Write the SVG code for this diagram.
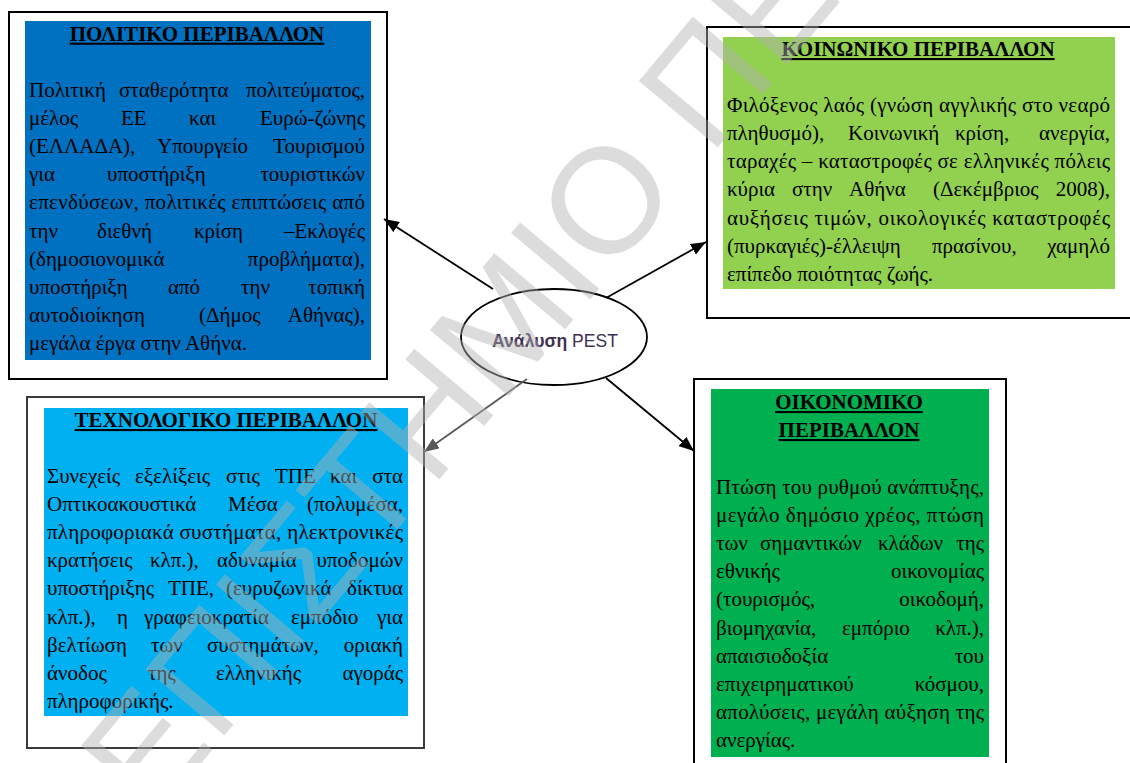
<svg xmlns="http://www.w3.org/2000/svg" width="1130" height="763" viewBox="0 0 1130 763">
<style>
.frame{fill:#fff;stroke:#000;stroke-width:2}
.b{font-family:"Liberation Serif","Times New Roman",serif;font-size:21px;fill:#000}
.t{font-family:"Liberation Serif","Times New Roman",serif;font-size:21px;font-weight:bold;fill:#000;text-decoration:underline;text-anchor:middle}
.e{text-anchor:end}
.con{stroke:#000;stroke-width:1.8;fill:none}
.wm{font-family:"Liberation Sans",Arial,sans-serif;font-size:150px;fill:#b2b2b2;fill-opacity:0.45}
</style>
<defs>
<marker id="ah" markerUnits="userSpaceOnUse" markerWidth="16" markerHeight="12" refX="15" refY="6" orient="auto"><path d="M0,0 L15,6 L0,12 z" fill="#000"/></marker>
<marker id="ahg" markerUnits="userSpaceOnUse" markerWidth="16" markerHeight="12" refX="15" refY="6" orient="auto"><path d="M0,0 L15,6 L0,12 z" fill="#595959"/></marker>
</defs>
<rect width="1130" height="763" fill="#fff"/>

<g id="political">
<rect class="frame" x="9" y="12" width="378" height="367"/>
<rect x="25" y="21" width="346" height="339" fill="#0070c0"/>
<text class="t" x="197" y="40.7">ΠΟΛΙΤΙΚΟ ΠΕΡΙΒΑΛΛΟΝ</text>
<text class="b" y="96.5"><tspan x="29">Πολιτική</tspan><tspan x="119">σταθερότητα</tspan><tspan class="e" x="365">πολιτεύματος,</tspan></text>
<text class="b" y="124.7"><tspan x="29">μέλος</tspan><tspan x="121">ΕΕ</tspan><tspan x="189">και</tspan><tspan class="e" x="365">Ευρώ-ζώνης</tspan></text>
<text class="b" y="152.9"><tspan x="29">(ΕΛΛΑΔΑ),</tspan><tspan x="157">Υπουργείο</tspan><tspan class="e" x="365">Τουρισμού</tspan></text>
<text class="b" y="181.1"><tspan x="29">για</tspan><tspan x="107">υποστήριξη</tspan><tspan class="e" x="365">τουριστικών</tspan></text>
<text class="b" y="209.3" x="29" textLength="336" lengthAdjust="spacing">επενδύσεων, πολιτικές επιπτώσεις από</text>
<text class="b" y="237.5"><tspan x="29">την</tspan><tspan x="97">διεθνή</tspan><tspan x="194">κρίση</tspan><tspan class="e" x="365">–Εκλογές</tspan></text>
<text class="b" y="265.7"><tspan x="29">(δημοσιονομικά</tspan><tspan class="e" x="365">προβλήματα),</tspan></text>
<text class="b" y="293.9"><tspan x="29">υποστήριξη</tspan><tspan x="168">από</tspan><tspan x="241">την</tspan><tspan class="e" x="365">τοπική</tspan></text>
<text class="b" y="322.1"><tspan x="29">αυτοδιοίκηση</tspan><tspan x="199">(Δήμος</tspan><tspan class="e" x="365">Αθήνας),</tspan></text>
<text class="b" y="350.3" x="29">μεγάλα έργα στην Αθήνα.</text>
</g>

<g id="social">
<rect class="frame" x="707" y="27" width="430" height="291"/>
<rect x="723" y="37" width="392" height="252" fill="#92d050"/>
<text class="t" x="918" y="56">ΚΟΙΝΩΝΙΚΟ ΠΕΡΙΒΑΛΛΟΝ</text>
<text class="b" y="111.7" x="727" textLength="383" lengthAdjust="spacing">Φιλόξενος λαός (γνώση αγγλικής στο νεαρό</text>
<text class="b" y="139.9"><tspan x="727">πληθυσμό),</tspan><tspan x="848">Κοινωνική</tspan><tspan x="955">κρίση,</tspan><tspan class="e" x="1110">ανεργία,</tspan></text>
<text class="b" y="168.1" x="727" textLength="383" lengthAdjust="spacing">ταραχές – καταστροφές σε ελληνικές πόλεις</text>
<text class="b" y="196.3"><tspan x="727">κύρια</tspan><tspan x="792">στην</tspan><tspan x="849">Αθήνα</tspan><tspan x="933">(Δεκέμβριος</tspan><tspan class="e" x="1110">2008),</tspan></text>
<text class="b" y="224.5" x="727" textLength="383" lengthAdjust="spacing">αυξήσεις τιμών, οικολογικές καταστροφές</text>
<text class="b" y="252.7"><tspan x="727">(πυρκαγιές)-έλλειψη</tspan><tspan x="932">πρασίνου,</tspan><tspan class="e" x="1110">χαμηλό</tspan></text>
<text class="b" y="280.9" x="727">επίπεδο ποιότητας ζωής.</text>
</g>

<g id="technological">
<rect x="27" y="397" width="397" height="351" fill="#fff" stroke="#3a3a3a" stroke-width="2"/>
<rect x="44" y="408" width="364" height="308" fill="#00b0f0"/>
<text class="t" x="226" y="427">ΤΕΧΝΟΛΟΓΙΚΟ ΠΕΡΙΒΑΛΛΟΝ</text>
<text class="b" y="482.5"><tspan x="47">Συνεχείς</tspan><tspan x="135">εξελίξεις</tspan><tspan x="226">στις</tspan><tspan x="275">ΤΠΕ</tspan><tspan x="330">και</tspan><tspan class="e" x="403">στα</tspan></text>
<text class="b" y="510.7"><tspan x="47">Οπτικοακουστικά</tspan><tspan x="228">Μέσα</tspan><tspan class="e" x="403">(πολυμέσα,</tspan></text>
<text class="b" y="538.9" x="47" textLength="356" lengthAdjust="spacing">πληροφοριακά συστήματα, ηλεκτρονικές</text>
<text class="b" y="567.1"><tspan x="47">κρατήσεις</tspan><tspan x="150">κλπ.),</tspan><tspan x="217">αδυναμία</tspan><tspan class="e" x="403">υποδομών</tspan></text>
<text class="b" y="595.3"><tspan x="47">υποστήριξης</tspan><tspan x="168">ΤΠΕ,</tspan><tspan x="226">(ευρυζωνικά</tspan><tspan class="e" x="403">δίκτυα</tspan></text>
<text class="b" y="623.5"><tspan x="47">κλπ.),</tspan><tspan x="117">η</tspan><tspan x="144">γραφειοκρατία</tspan><tspan x="291">εμπόδιο</tspan><tspan class="e" x="403">για</tspan></text>
<text class="b" y="651.7"><tspan x="47">βελτίωση</tspan><tspan x="151">των</tspan><tspan x="207">συστημάτων,</tspan><tspan class="e" x="403">οριακή</tspan></text>
<text class="b" y="679.9"><tspan x="47">άνοδος</tspan><tspan x="148">της</tspan><tspan x="216">ελληνικής</tspan><tspan class="e" x="403">αγοράς</tspan></text>
<text class="b" y="708.1" x="47">πληροφορικής.</text>
</g>

<g id="economic">
<rect class="frame" x="694" y="379" width="312" height="400"/>
<rect x="711" y="389" width="278" height="368" fill="#00b050"/>
<text class="t" x="849" y="409">ΟΙΚΟΝΟΜΙΚΟ</text>
<text class="t" x="849" y="437">ΠΕΡΙΒΑΛΛΟΝ</text>
<text class="b" y="493.5" x="716" textLength="268" lengthAdjust="spacing">Πτώση του ρυθμού ανάπτυξης,</text>
<text class="b" y="521.7" x="716" textLength="268" lengthAdjust="spacing">μεγάλο δημόσιο χρέος, πτώση</text>
<text class="b" y="549.9"><tspan x="716">των</tspan><tspan x="760">σημαντικών</tspan><tspan x="878">κλάδων</tspan><tspan class="e" x="984">της</tspan></text>
<text class="b" y="578.1"><tspan x="716">εθνικής</tspan><tspan class="e" x="984">οικονομίας</tspan></text>
<text class="b" y="606.3"><tspan x="716">(τουρισμός,</tspan><tspan class="e" x="984">οικοδομή,</tspan></text>
<text class="b" y="634.5"><tspan x="716">βιομηχανία,</tspan><tspan x="842">εμπόριο</tspan><tspan class="e" x="984">κλπ.),</tspan></text>
<text class="b" y="662.7"><tspan x="716">απαισιοδοξία</tspan><tspan class="e" x="984">του</tspan></text>
<text class="b" y="690.9"><tspan x="716">επιχειρηματικού</tspan><tspan class="e" x="984">κόσμου,</tspan></text>
<text class="b" y="719.1" x="716" textLength="268" lengthAdjust="spacing">απολύσεις, μεγάλη αύξηση της</text>
<text class="b" y="747.3" x="716">ανεργίας.</text>
</g>

<g id="pest">
<ellipse cx="554" cy="337" rx="93" ry="48" fill="#fff" stroke="#000" stroke-width="1.8"/>
<text x="492" y="347" textLength="126" lengthAdjust="spacingAndGlyphs" font-family="'Liberation Sans',Arial,sans-serif" font-size="18.5" fill="#3f3151"><tspan font-weight="bold">Ανάλυση</tspan> PEST</text>
</g>

<g id="connectors">
<line class="con" x1="493" y1="289" x2="384" y2="219" marker-end="url(#ah)"/>
<line class="con" x1="606" y1="298" x2="706" y2="242" marker-end="url(#ah)"/>
<line x1="527" y1="379" x2="424" y2="452" stroke="#595959" stroke-width="1.8" marker-end="url(#ahg)"/>
<line class="con" x1="606" y1="378" x2="694" y2="451" marker-end="url(#ah)"/>
</g>

<g id="watermark" transform="translate(604,199) rotate(-50)">
<text class="wm" x="-1084" y="54">ΠΑΝΕΠΙΣΤΗΜΙΟ ΠΕΙΡΑΙΩΣ</text>
</g>
</svg>
